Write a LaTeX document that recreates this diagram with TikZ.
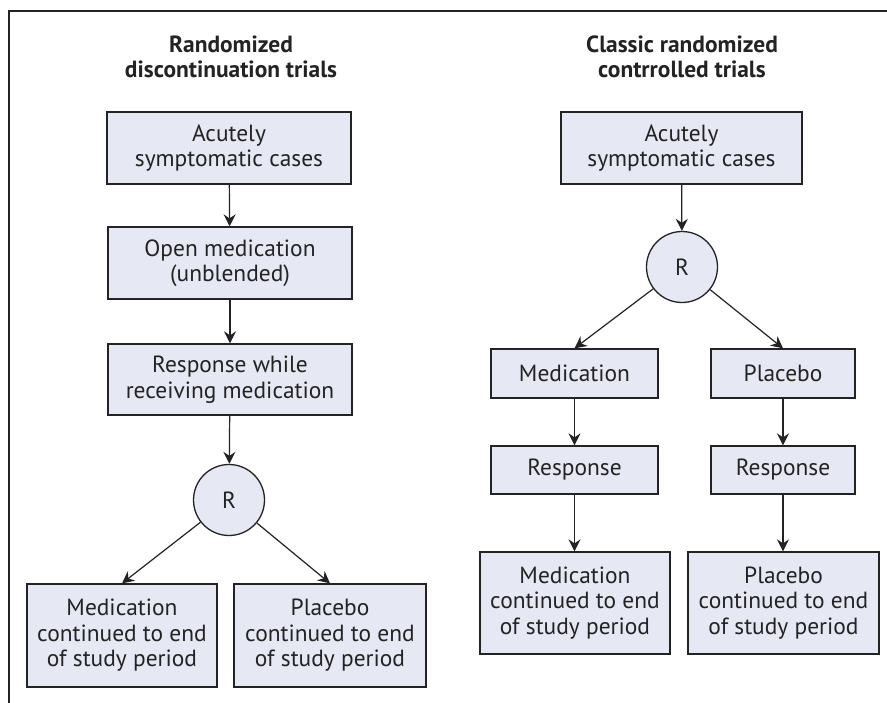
\documentclass[tikz,border=0pt]{standalone}
\usepackage{fontspec}
\setmainfont{PT Sans}
\usetikzlibrary{arrows.meta,shadows}
\definecolor{boxfill}{HTML}{E6E8F3}
\definecolor{ink}{HTML}{232323}
\begin{document}
\begin{tikzpicture}[x=1bp,y=-1bp,
  every node/.style={text=ink},
  box/.style={draw=ink, line width=1.3bp, fill=boxfill, inner sep=0pt, align=center,
    font=\fontsize{23.5}{25.5}\selectfont,
    drop shadow={shadow xshift=1.2bp, shadow yshift=-1.2bp, fill=black!45, opacity=1}},
  rnode/.style={draw=ink, line width=1.3bp, fill=boxfill, circle, inner sep=0pt,
    minimum size=71bp, font=\fontsize{23.5}{25.5}\selectfont},
  ttl/.style={align=center, font=\bfseries\fontsize{23.5}{25.5}\selectfont},
  arr/.style={draw=ink, line width=1.2bp, -{Stealth[length=12bp,width=12bp,inset=4bp]}}]
\useasboundingbox (0,0) rectangle (887,703);
\fill[white] (0,0) rectangle (887,703);
\draw[ink, line width=1.5bp] (9,703) -- (9,11) -- (887,11);
% titles
\node[ttl] (t1) at (231,57) {Randomized\\discontinuation trials};
\node[ttl] (t2) at (682,57) {Classic randomized\\contrrolled trials};
% left column
\node[box, minimum width=244bp, minimum height=72bp] (b1) at (229,148) {Acutely\\symptomatic cases};
\node[box, minimum width=244bp, minimum height=72bp] (b2) at (230,263) {Open medication\\(unblended)};
\node[box, minimum width=244bp, minimum height=71bp] (b3) at (230,379.5) {Response while\\receiving medication};
\node[rnode] (r1) at (229,500) {R};
\node[box, minimum width=190bp, minimum height=103bp] (b4) at (122,635.5) {Medication\\continued to end\\of study period};
\node[box, minimum width=192bp, minimum height=103bp] (b5) at (330,635.5) {Placebo\\continued to end\\of study period};
\draw[arr] (b1) -- (b2);
\draw[arr] (b2) -- (b3);
\draw[arr] (b3) -- (r1);
\draw[arr] (r1) -- (b4.north);
\draw[arr] (r1) -- (b5.north);
% right column
\node[box, minimum width=241bp, minimum height=72bp] (c1) at (681.5,148) {Acutely\\symptomatic cases};
\node[rnode] (r2) at (682,267) {R};
\node[box, minimum width=167bp, minimum height=49bp] (m1) at (574.5,373.5) {Medication};
\node[box, minimum width=144bp, minimum height=49bp] (p1) at (783,373.5) {Placebo};
\node[box, minimum width=167bp, minimum height=48bp] (m2) at (574.5,470) {Response};
\node[box, minimum width=144bp, minimum height=48bp] (p2) at (783,470) {Response};
\node[box, minimum width=190bp, minimum height=102bp] (m3) at (575,603) {Medication\\continued to end\\of study period};
\node[box, minimum width=191bp, minimum height=102bp] (p3) at (783.5,603) {Placebo\\continued to end\\of study period};
\draw[arr] (c1) -- (r2);
\draw[arr] (r2) -- (m1.north);
\draw[arr] (r2) -- (p1.north);
\draw[arr] (m1) -- (m2);
\draw[arr] (p1) -- (p2);
\draw[arr] (m2) -- (m2 |- m3.north);
\draw[arr] (p2) -- (p2 |- p3.north);
\end{tikzpicture}
\end{document}
